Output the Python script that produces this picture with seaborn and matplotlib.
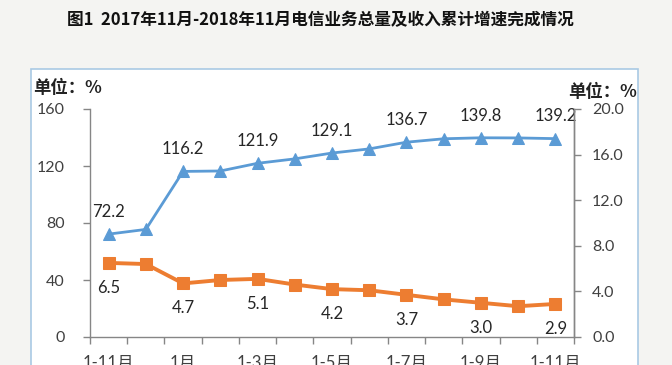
import matplotlib
matplotlib.use('Agg')
import matplotlib.pyplot as plt
import seaborn as sns
import numpy as np
import pandas as pd
from matplotlib.patches import Rectangle

# data
periods = ['2017年1-11月', '2017年1-12月', '2018年1月', '2018年1-2月', '2018年1-3月',
           '2018年1-4月', '2018年1-5月', '2018年1-6月', '2018年1-7月', '2018年1-8月',
           '2018年1-9月', '2018年1-10月', '2018年1-11月']
tick_labels = ['1-11月', '1月', '1-3月', '1-5月', '1-7月', '1-9月', '1-11月']
business_growth = [72.2, 75.5, 116.2, 116.5, 121.9, 125.0, 129.1, 132.0, 136.7, 139.1, 139.8, 139.7, 139.2]
revenue_growth = [6.5, 6.4, 4.7, 5.0, 5.1, 4.6, 4.2, 4.1, 3.7, 3.3, 3.0, 2.7, 2.9]

df = pd.DataFrame({'idx': np.arange(len(periods)), 'period': periods,
                   'business': business_growth, 'revenue': revenue_growth})

sns.set_theme(style='white')
plt.rcParams['font.family'] = ['Lato', 'Noto Sans CJK SC', 'DejaVu Sans']

blue = '#5b9bd5'
orange = '#ed7d31'
gray = '#868686'
txt = '#404040'

fig = plt.figure(figsize=(6.72, 3.65), dpi=100, facecolor='#f4f4f2')
# white chart box with light blue border
box = Rectangle((31/672, -0.01), (638-31)/672, 1 - 69/365 + 0.01,
                transform=fig.transFigure, facecolor='white',
                edgecolor='#a9c9e4', lw=1.2, zorder=-10)
fig.add_artist(box)

fig.text(320/672, 1 - 20/365, '图1  2017年11月-2018年11月电信业务总量及收入累计增速完成情况',
         ha='center', va='center', fontsize=12, fontweight='bold',
         family=['Noto Sans CJK SC', 'DejaVu Sans'], color='#111111')
fig.text(33/672, 1 - 88/365, '单位：%', ha='left', va='center', fontsize=12.5,
         fontweight='bold', family=['Noto Sans CJK SC', 'DejaVu Sans'], color='#222222')
fig.text(637/672, 1 - 92/365, '单位：%', ha='right', va='center', fontsize=12.5,
         fontweight='bold', family=['Noto Sans CJK SC', 'DejaVu Sans'], color='#222222')

ax = fig.add_axes([90/672, 28/365, (574-90)/672, (337-109)/365])
ax.set_facecolor('none')
ax2 = ax.twinx()

sns.lineplot(data=df, x='idx', y='business', ax=ax, color=blue, lw=2, marker='^',
             markersize=8, markeredgecolor=blue, zorder=3)
sns.lineplot(data=df, x='idx', y='revenue', ax=ax2, color=orange, lw=2.8, marker='s',
             markersize=8, markeredgecolor=orange, zorder=3)

for i in range(0, len(periods), 2):
    ax.annotate(f'{business_growth[i]:.1f}', (i, business_growth[i]), xytext=(0, 16),
                textcoords='offset points', ha='center', va='center', fontsize=12, color='#262626')
    ax2.annotate(f'{revenue_growth[i]:.1f}', (i, revenue_growth[i]), xytext=(0, -18),
                 textcoords='offset points', ha='center', va='center', fontsize=12, color='#262626')

ax.set_xlim(-0.5, len(periods) - 0.5)
ax.set_ylim(0, 160)
ax.set_yticks([0, 40, 80, 120, 160])
ax2.set_ylim(0, 20)
ax2.set_yticks([0, 4, 8, 12, 16, 20])
ax2.set_yticklabels([f'{v:.1f}' for v in [0, 4, 8, 12, 16, 20]])

ax.set_xticks(np.arange(0, len(periods), 2))
ax.set_xticklabels(tick_labels)
ax.set_xticks(np.arange(-0.5, len(periods), 1), minor=True)
ax.tick_params(axis='x', which='major', length=0, pad=13, labelsize=12, labelcolor=txt)
ax.tick_params(axis='x', which='minor', length=5, width=1, color=gray, direction='out', bottom=True)
ax.tick_params(axis='y', length=5, width=1, color=gray, direction='out', left=True,
               pad=13, labelsize=11.5, labelcolor=txt)
ax2.tick_params(axis='y', length=5, width=1, color=gray, direction='out', right=True,
                pad=8, labelsize=11.5, labelcolor=txt)

ax.set_xlabel('')
ax.set_ylabel('')
ax2.set_ylabel('')
for a in (ax, ax2):
    a.spines['top'].set_visible(False)
    for s in ('left', 'right', 'bottom'):
        a.spines[s].set_color(gray)
        a.spines[s].set_linewidth(1)
    a.grid(False)
ax2.spines['left'].set_visible(False)
ax2.spines['bottom'].set_visible(False)

fig.savefig('out.png', dpi=100, facecolor=fig.get_facecolor())
